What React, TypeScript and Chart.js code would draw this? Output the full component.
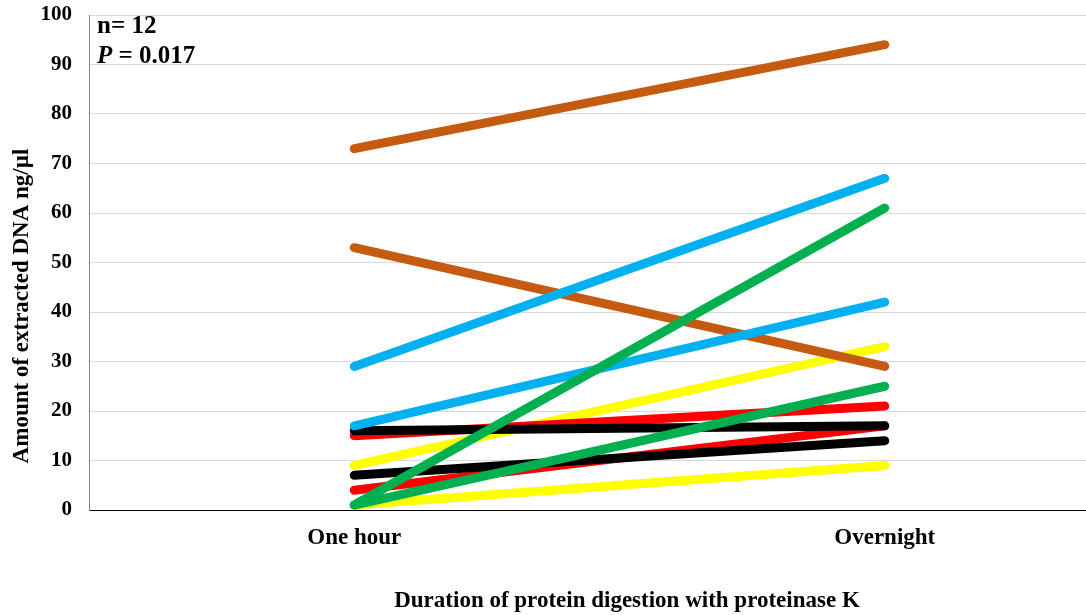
import React, { useEffect, useRef } from "react";
import { Chart, registerables } from "chart.js";

Chart.register(...registerables);

const categories = ["One hour", "Overnight"];

const greenA = [1, 61];
const greenB = [1, 25];
const blueA = [29, 67];
const blueB = [17, 42];
const orangeA = [73, 94];
const orangeB = [53, 29];
const blackA = [16, 17];
const blackB = [7, 14];
const redA = [15, 21];
const redB = [4, 17];
const yellowA = [9, 33];
const yellowB = [1, 9];

const yTicks = [0, 10, 20, 30, 40, 50, 60, 70, 80, 90, 100];

const xTitle = "Duration of protein digestion with proteinase K";
const yTitle = "Amount of extracted DNA ng/µl";
const noteN = "n= 12";
const noteP = "P";
const notePValue = " = 0.017";

const FONT = '"Liberation Serif", "Times New Roman", serif';

const GREEN = "#00B050";
const BLUE = "#00B0F0";
const ORANGE = "#C55A11";
const BLACK = "#000000";
const RED = "#FF0000";
const YELLOW = "#FFFF00";

const textPlugin = {
  id: "textPlugin",
  afterDraw(chart: any) {
    const ctx = chart.ctx;
    ctx.save();
    ctx.fillStyle = "#000";
    ctx.textBaseline = "alphabetic";
    ctx.textAlign = "left";
    ctx.font = `bold 25px ${FONT}`;
    ctx.fillText(noteN, 97, 33);
    ctx.font = `italic bold 25px ${FONT}`;
    ctx.fillText(noteP, 97, 63);
    const w = ctx.measureText(noteP).width;
    ctx.font = `bold 25px ${FONT}`;
    ctx.fillText(notePValue, 97 + w, 63);

    ctx.font = `bold 23px ${FONT}`;
    ctx.textAlign = "center";
    ctx.textBaseline = "middle";
    ctx.fillText(xTitle, 627, 601);

    ctx.translate(22, 306);
    ctx.rotate(-Math.PI / 2);
    ctx.fillText(yTitle, 0, 0);
    ctx.restore();
  },
};

function line(data: number[], color: string) {
  return {
    data,
    borderColor: color,
    backgroundColor: color,
    borderWidth: 9,
    borderCapStyle: "round" as const,
    borderJoinStyle: "round" as const,
    pointRadius: 0,
    pointHoverRadius: 0,
    fill: false,
    tension: 0,
  };
}

export default function App() {
  const ref = useRef<HTMLCanvasElement | null>(null);

  useEffect(() => {
    document.body.style.margin = "0";
    const canvas = ref.current;
    if (!canvas) return;
    const chart = new Chart(canvas, {
      type: "line",
      data: {
        labels: categories,
        datasets: [
          line(greenA, GREEN),
          line(greenB, GREEN),
          line(blueA, BLUE),
          line(blueB, BLUE),
          line(orangeA, ORANGE),
          line(orangeB, ORANGE),
          line(blackA, BLACK),
          line(blackB, BLACK),
          line(redA, RED),
          line(redB, RED),
          line(yellowA, YELLOW),
          line(yellowB, YELLOW),
        ],
      },
      options: {
        animation: false,
        responsive: false,
        devicePixelRatio: 1,
        layout: { padding: { top: 15, left: 0, right: 0, bottom: 0 } },
        plugins: {
          legend: { display: false },
          tooltip: { enabled: false },
          title: { display: false },
        },
        scales: {
          x: {
            type: "category",
            offset: true,
            grid: { display: true, color: "rgba(0,0,0,0)", drawTicks: false },
            border: { display: true, color: "#000000", width: 1 },
            ticks: {
              color: "#000",
              padding: 14,
              font: { family: FONT, size: 23, weight: "bold" },
              maxRotation: 0,
            },
            afterFit(scale: any) {
              scale.height = 105;
              scale.paddingLeft = 0;
              scale.paddingRight = 0;
            },
          },
          y: {
            type: "linear",
            min: 0,
            max: 100,
            grid: { color: "#D9D9D9", lineWidth: 1, drawTicks: false },
            border: { display: true, color: "#868686", width: 1 },
            ticks: {
              color: "#000",
              padding: 17,
              stepSize: 10,
              font: { family: FONT, size: 21, weight: "bold" },
            },
            afterBuildTicks(scale: any) {
              scale.ticks = yTicks.map((v) => ({ value: v }));
            },
            afterFit(scale: any) {
              scale.width = 89;
              scale.paddingTop = 0;
              scale.paddingBottom = 0;
            },
          },
        },
      },
      plugins: [textPlugin],
    });
    return () => chart.destroy();
  }, []);

  return (
    <div
      style={{
        position: "fixed",
        left: 0,
        top: 0,
        width: 1086,
        height: 615,
        overflow: "hidden",
        background: "#fff",
      }}
    >
      <canvas ref={ref} width={1150} height={615} style={{ width: 1150, height: 615, display: "block" }} />
    </div>
  );
}
